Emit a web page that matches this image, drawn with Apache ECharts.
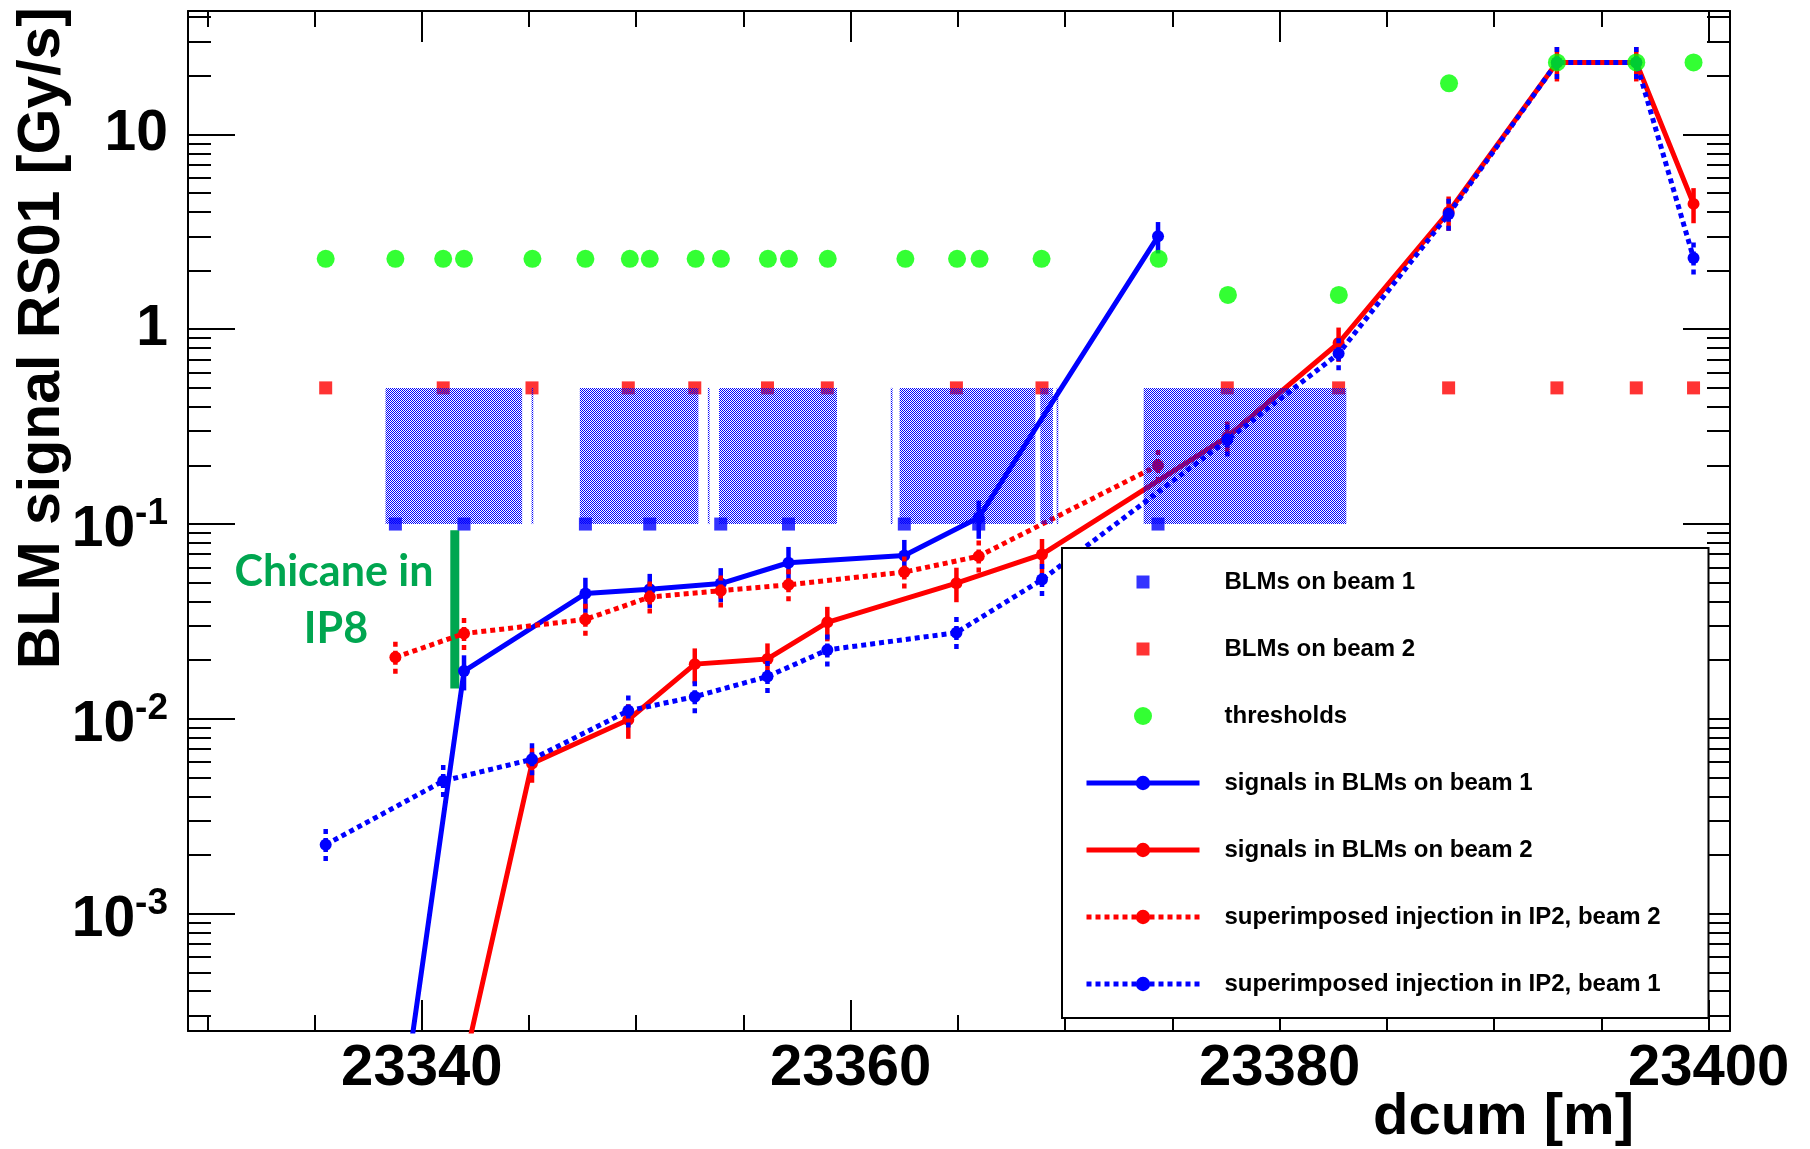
<!DOCTYPE html>
<html><head><meta charset="utf-8">
<script src="https://cdn.jsdelivr.net/npm/echarts@6/dist/echarts.min.js"></script>
<style>html,body{margin:0;padding:0;background:#fff}#c{width:1810px;height:1149px}</style>
</head><body><div id="c"></div>
<script>
// ---------------- data ----------------
const beam1Pos = [23338.77, 23341.97, 23347.63, 23350.63, 23353.94, 23357.10, 23362.50, 23365.97, 23374.33];
const beam2Pos = [23335.52, 23341.00, 23345.14, 23349.63, 23352.73, 23356.12, 23358.91, 23364.93, 23368.92, 23377.56, 23382.75, 23387.88, 23392.93, 23396.63, 23399.30];
const beam1BlmLevel = 0.1;
const beam2BlmLevel = 0.5;
const thrX = [23335.52, 23338.77, 23341.00, 23341.97, 23345.16, 23347.63, 23349.70, 23350.63, 23352.77, 23353.95, 23356.14, 23357.12, 23358.93, 23362.55, 23364.96, 23366.01, 23368.90, 23374.36, 23377.59, 23382.76, 23387.90, 23392.93, 23396.63, 23399.30];
const thrY = [2.3, 2.3, 2.3, 2.3, 2.3, 2.3, 2.3, 2.3, 2.3, 2.3, 2.3, 2.3, 2.3, 2.3, 2.3, 2.3, 2.3, 2.3, 1.5, 1.5, 18.3, 23.4, 23.4, 23.4];
// signals in BLMs on beam 1 (at beam1Pos)
const sigBeam1 = [5.7e-5, 0.0176, 0.044, 0.0463, 0.0495, 0.0633, 0.0689, 0.108, 3.0];
const sigBeam1Err = [null, 0.0036, 0.009, 0.0092, 0.0099, 0.013, 0.014, 0.024, 0.55];
// superimposed injection in IP2, beam 2 (at beam1Pos)
const injBeam2 = [0.0207, 0.0274, 0.0324, 0.0422, 0.0455, 0.0488, 0.0567, 0.0684, 0.20];
const injBeam2Err = [0.0042, 0.0055, 0.0066, 0.0085, 0.009, 0.0098, 0.0115, 0.014, 0.04];
// signals in BLMs on beam 2 (at beam2Pos)
const sigBeam2 = [null, 5.6e-5, 0.0059, 0.0099, 0.0191, 0.0203, 0.0313, 0.0497, 0.0698, 0.28, 0.85, 4.0, 23.4, 23.4, 4.4];
const sigBeam2Err = [null, null, 0.0012, 0.002, 0.0039, 0.0041, 0.0063, 0.0100, 0.014, 0.056, 0.17, 0.8, 4.7, 4.7, 0.9];
// superimposed injection in IP2, beam 1 (at beam2Pos)
const injBeam1 = [0.00226, 0.0048, 0.0062, 0.0110, 0.0130, 0.0165, 0.0226, 0.0277, 0.0519, 0.27, 0.75, 3.9, 23.4, 23.4, 2.32];
const injBeam1Err = [0.00046, 0.001, 0.0013, 0.0022, 0.0026, 0.0033, 0.0045, 0.0056, 0.0105, 0.054, 0.15, 0.78, 4.7, 4.7, 0.47];
// magnet (hatched) regions
const magnetStart = [23338.31, 23345.12, 23347.37, 23353.34, 23353.86, 23361.87, 23362.28, 23368.84, 23369.60, 23373.66];
const magnetEnd   = [23344.68, 23345.20, 23352.90, 23353.42, 23359.36, 23361.95, 23368.61, 23369.43, 23369.68, 23383.11];
const magnetLow = 0.1, magnetHigh = 0.5;
// chicane marker
const chicaneX = 23341.54;
const chicaneRange = [0.0143, 0.093];
// axes
const xMin = 23329.1, xMax = 23401.0;
const yMin = 2.5e-4, yMax = 43;
const xMajorTicks = [23340, 23360, 23380, 23400];
const xMinorTicks = [23330, 23335, 23345, 23350, 23355, 23365, 23370, 23375, 23385, 23390, 23395];
const yMajorTicks = [0.001, 0.01, 0.1, 1, 10];
const yTickBase = ['10', '10', '10', '1', '10'];
const yTickExp = ['-3', '-2', '-1', '', ''];
const yMinorTicks = [3e-4, 4e-4, 5e-4, 6e-4, 7e-4, 8e-4, 9e-4,
  0.002, 0.003, 0.004, 0.005, 0.006, 0.007, 0.008, 0.009,
  0.02, 0.03, 0.04, 0.05, 0.06, 0.07, 0.08, 0.09,
  0.2, 0.3, 0.4, 0.5, 0.6, 0.7, 0.8, 0.9,
  2, 3, 4, 5, 6, 7, 8, 9, 20, 30, 40];
const legendNames = ['BLMs on beam 1', 'BLMs on beam 2', 'thresholds', 'signals in BLMs on beam 1', 'signals in BLMs on beam 2', 'superimposed injection in IP2, beam 2', 'superimposed injection in IP2, beam 1'];

// ---------------- chart ----------------
const FONT = '"Liberation Sans", Arial, sans-serif';
const BLUE = '#0000ff', RED = '#ff0000', GREEN = '#00ff00', CHIC = '#00a650';
const DOT = [5, 4];

const pc = document.createElement('canvas');
pc.width = 2; pc.height = 2;
const pg = pc.getContext('2d');
pg.fillStyle = '#0000ff';
pg.fillRect(0, 0, 1, 1); pg.fillRect(1, 1, 1, 1);
const hatch = { image: pc, repeat: 'repeat' };

const chart = echarts.init(document.getElementById('c'), null, { renderer: 'canvas' });

function zip(xs, ys) { return xs.map((x, i) => ys[i] == null ? [x, null] : [x, ys[i]]); }
function errData(xs, ys, es) {
  const out = [];
  xs.forEach((x, i) => { if (es[i] != null && ys[i] != null) out.push([x, ys[i], es[i]]); });
  return out;
}
function errSeries(xs, ys, es, color, dash, z) {
  return {
    type: 'custom', silent: true, z: z,
    data: errData(xs, ys, es),
    encode: { x: 0, y: 1 },
    renderItem: function (params, api) {
      const x = api.value(0), v = api.value(1), e = api.value(2);
      const a = api.coord([x, v + e]), b = api.coord([x, v - e]);
      return { type: 'line', shape: { x1: a[0], y1: a[1], x2: b[0], y2: b[1] },
        style: { stroke: color, lineWidth: 4.5, lineDash: dash || null } };
    }
  };
}
function lineSeries(name, xs, ys, color, dash, z) {
  return {
    name: name, type: 'line', data: zip(xs, ys), z: z,
    symbol: 'circle', symbolSize: 12, showSymbol: true, connectNulls: false,
    itemStyle: { color: color },
    lineStyle: { color: color, width: 5, type: dash ? DOT : 'solid', cap: 'butt' },
    emphasis: { disabled: true }, animation: false, clip: true
  };
}

const tickStyle = { color: '#000', width: 2 };
const xBase = { type: 'value', min: xMin, max: xMax, splitLine: { show: false } };
const yBase = { type: 'log', logBase: 10, min: yMin, max: yMax, splitLine: { show: false } };

const sqIcon = 'path://M0 0M18 18M2.5 2.5L15.5 2.5L15.5 15.5L2.5 15.5Z';

const option = {
  animation: false,
  backgroundColor: '#fff',
  grid: { left: 188, right: 80, top: 11, bottom: 118, containLabel: false },
  xAxis: [
    Object.assign({}, xBase, {
      position: 'bottom',
      axisLine: { show: true, onZero: false, lineStyle: { color: '#000', width: 2 } },
      axisTick: { show: true, inside: true, length: 31, lineStyle: tickStyle, customValues: xMajorTicks },
      axisLabel: { show: true, customValues: xMajorTicks, margin: 9, color: '#000', fontSize: 58, fontWeight: 'bold', fontFamily: FONT, formatter: v => String(Math.round(v)) }
    }),
    Object.assign({}, xBase, {
      position: 'bottom',
      axisLine: { show: false, onZero: false },
      axisTick: { show: true, inside: true, length: 16, lineStyle: tickStyle, customValues: xMinorTicks },
      axisLabel: { show: false }
    }),
    Object.assign({}, xBase, {
      position: 'top',
      axisLine: { show: true, onZero: false, lineStyle: { color: '#000', width: 2 } },
      axisTick: { show: true, inside: true, length: 31, lineStyle: tickStyle, customValues: xMajorTicks },
      axisLabel: { show: false }
    }),
    Object.assign({}, xBase, {
      position: 'top',
      axisLine: { show: false, onZero: false },
      axisTick: { show: true, inside: true, length: 16, lineStyle: tickStyle, customValues: xMinorTicks },
      axisLabel: { show: false }
    })
  ],
  yAxis: [
    Object.assign({}, yBase, {
      position: 'left',
      axisLine: { show: true, onZero: false, lineStyle: { color: '#000', width: 2 } },
      axisTick: { show: true, inside: true, length: 47, lineStyle: tickStyle, customValues: yMajorTicks },
      axisLabel: {
        show: true, customValues: yMajorTicks, margin: 20, align: 'right',
        formatter: function (v) {
          const i = yMajorTicks.findIndex(t => Math.abs(t - v) / t < 1e-6);
          if (i < 0) return '';
          return yTickExp[i] ? '{bs|' + yTickBase[i] + '}{s|' + yTickExp[i] + '}' : '{b|' + yTickBase[i] + '}';
        },
        rich: {
          b: { fontSize: 57, fontWeight: 'bold', fontFamily: FONT, color: '#000', lineHeight: 57 },
          bs: { fontSize: 57, fontWeight: 'bold', fontFamily: FONT, color: '#000', lineHeight: 57, padding: [13, 0, 0, 0] },
          s: { fontSize: 37, fontWeight: 'bold', fontFamily: FONT, color: '#000', lineHeight: 44, verticalAlign: 'top' }
        }
      }
    }),
    Object.assign({}, yBase, {
      position: 'left',
      axisLine: { show: false, onZero: false },
      axisTick: { show: true, inside: true, length: 23, lineStyle: tickStyle, customValues: yMinorTicks },
      axisLabel: { show: false }
    }),
    Object.assign({}, yBase, {
      position: 'right',
      axisLine: { show: true, onZero: false, lineStyle: { color: '#000', width: 2 } },
      axisTick: { show: true, inside: true, length: 47, lineStyle: tickStyle, customValues: yMajorTicks },
      axisLabel: { show: false }
    }),
    Object.assign({}, yBase, {
      position: 'right',
      axisLine: { show: false, onZero: false },
      axisTick: { show: true, inside: true, length: 23, lineStyle: tickStyle, customValues: yMinorTicks },
      axisLabel: { show: false }
    })
  ],
  legend: {
    orient: 'vertical', left: 1062, top: 548,
    padding: [20, 44, 20, 22],
    backgroundColor: '#fff', borderColor: '#000', borderWidth: 2, borderRadius: 0,
    itemWidth: 113, itemHeight: 18, itemGap: 39,
    selectedMode: false, z: 20,
    lineStyle: { width: 5 },
    textStyle: { fontSize: 24, fontWeight: 'bold', fontFamily: FONT, color: '#000', lineHeight: 28, width: 440, padding: [0, 0, 0, 20] },
    data: [
      { name: legendNames[0], icon: sqIcon },
      { name: legendNames[1], icon: sqIcon },
      { name: legendNames[2], icon: 'circle' },
      legendNames[3], legendNames[4], legendNames[5], legendNames[6]
    ]
  },
  graphic: [
    { type: 'text', x: 43, y: 7, rotation: Math.PI / 2, z: 50,
      style: { text: 'BLM signal RS01 [Gy/s]', font: 'bold 59px ' + FONT, fill: '#000', align: 'right', verticalAlign: 'middle' } },
    { type: 'text', x: 1634, y: 1118, z: 50,
      style: { text: 'dcum [m]', font: 'bold 58px ' + FONT, fill: '#000', align: 'right', verticalAlign: 'middle' } },
    { type: 'text', x: 334, y: 572, z: 50,
      style: { text: 'Chicane in', font: 'bold 43px Lato, "Open Sans", sans-serif', fill: CHIC, align: 'center', verticalAlign: 'middle' } },
    { type: 'text', x: 336, y: 629, z: 50,
      style: { text: 'IP8', font: 'bold 43px Lato, "Open Sans", sans-serif', fill: CHIC, align: 'center', verticalAlign: 'middle' } }
  ],
  series: [
    // chicane vertical bar
    { name: 'chicane', type: 'line', data: [[chicaneX, chicaneRange[0]], [chicaneX, chicaneRange[1]]],
      symbol: 'none', lineStyle: { color: CHIC, width: 9, cap: 'butt' }, z: 2, silent: true },
    lineSeries(legendNames[3], beam1Pos, sigBeam1, BLUE, false, 3),
    errSeries(beam1Pos, sigBeam1, sigBeam1Err, BLUE, null, 3),
    lineSeries(legendNames[4], beam2Pos, sigBeam2, RED, false, 3),
    errSeries(beam2Pos, sigBeam2, sigBeam2Err, RED, null, 3),
    lineSeries(legendNames[5], beam1Pos, injBeam2, RED, true, 4),
    errSeries(beam1Pos, injBeam2, injBeam2Err, RED, DOT, 4),
    lineSeries(legendNames[6], beam2Pos, injBeam1, BLUE, true, 4),
    errSeries(beam2Pos, injBeam1, injBeam1Err, BLUE, DOT, 4),
    { name: legendNames[0], type: 'scatter', symbol: 'rect', symbolSize: 13, z: 5,
      itemStyle: { color: BLUE }, data: beam1Pos.map(x => [x, beam1BlmLevel]) },
    { name: legendNames[1], type: 'scatter', symbol: 'rect', symbolSize: 13, z: 5,
      itemStyle: { color: RED }, data: beam2Pos.map(x => [x, beam2BlmLevel]) },
    { name: legendNames[2], type: 'scatter', symbol: 'circle', symbolSize: 18, z: 6,
      itemStyle: { color: GREEN }, data: thrX.map((x, i) => [x, thrY[i]]) },
    { name: 'magnets', type: 'custom', silent: true, z: 7,
      data: magnetStart.map((s, i) => [s, magnetEnd[i], magnetLow, magnetHigh]),
      encode: { x: [0, 1], y: [2, 3] },
      renderItem: function (params, api) {
        const p0 = api.coord([api.value(0), api.value(3)]);
        const p1 = api.coord([api.value(1), api.value(2)]);
        return { type: 'rect', shape: { x: p0[0], y: p0[1], width: Math.max(1.5, p1[0] - p0[0]), height: p1[1] - p0[1] },
          style: { fill: hatch } };
      }
    }
  ]
};
chart.setOption(option);
</script>
</body></html>
